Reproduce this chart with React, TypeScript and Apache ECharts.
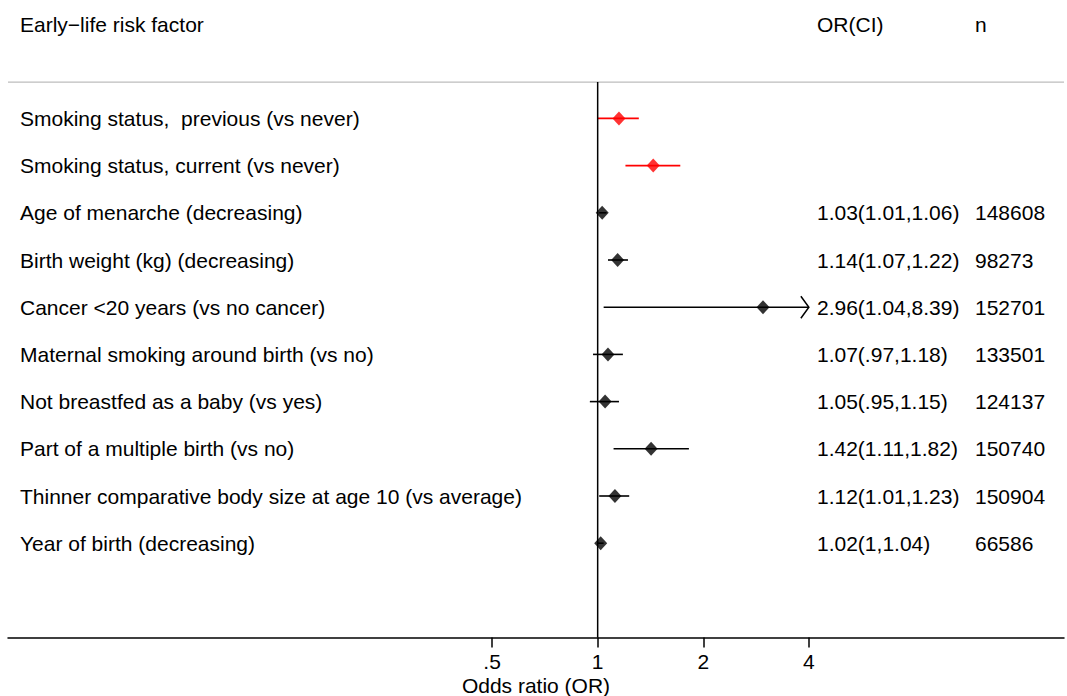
import React, { useEffect, useRef } from "react";
import * as echarts from "echarts";

const LABELS = [
  "Smoking status,  previous (vs never)",
  "Smoking status, current (vs never)",
  "Age of menarche (decreasing)",
  "Birth weight (kg) (decreasing)",
  "Cancer <20 years (vs no cancer)",
  "Maternal smoking around birth (vs no)",
  "Not breastfed as a baby (vs yes)",
  "Part of a multiple birth (vs no)",
  "Thinner comparative body size at age 10 (vs average)",
  "Year of birth (decreasing)",
];
const OR = [1.15, 1.44, 1.03, 1.14, 2.96, 1.07, 1.05, 1.42, 1.12, 1.02];
const LO = [1.0, 1.2, 1.01, 1.07, 1.04, 0.97, 0.95, 1.11, 1.01, 1.0];
const HI = [1.31, 1.72, 1.06, 1.22, 8.39, 1.18, 1.15, 1.82, 1.23, 1.04];
const CI_TEXT = [
  "",
  "",
  "1.03(1.01,1.06)",
  "1.14(1.07,1.22)",
  "2.96(1.04,8.39)",
  "1.07(.97,1.18)",
  "1.05(.95,1.15)",
  "1.42(1.11,1.82)",
  "1.12(1.01,1.23)",
  "1.02(1,1.04)",
];
const N_TEXT = ["", "", "148608", "98273", "152701", "133501", "124137", "150740", "150904", "66586"];
const HIGHLIGHT = [true, true, false, false, false, false, false, false, false, false];
const HEADERS = ["Early\u2212life risk factor", "OR(CI)", "n"];
const TICK_VALUES = [0.5, 1, 2, 4];
const TICK_LABELS = [".5", "1", "2", "4"];
const X_CAP = 4;
const AXIS_TITLE = "Odds ratio (OR)";

const FONT = "'Liberation Sans', Arial, Helvetica, sans-serif";
const FS = 21;
const COL_X = [20, 817, 975];
const RED = "#ff0000";

const lg = (v: number) => Math.log2(v);

export default function App() {
  const ref = useRef<HTMLDivElement>(null);
  useEffect(() => {
    if (!ref.current) return;
    const chart = echarts.init(ref.current, undefined, { renderer: "svg" });
    const rows = LABELS.map((_, i) => i + 2);
    const xMin = -5.584;
    const xMax = 4.416;
    const sepRow = 1.23;
    const bottomRow = 13;

    const textRows = [
      { row: 0, cols: HEADERS },
      ...LABELS.map((l, i) => ({ row: rows[i], cols: [l, CI_TEXT[i], N_TEXT[i]] })),
    ];

    const option: any = {
      animation: false,
      backgroundColor: "#fff",
      grid: { left: 8, right: 3, top: 24, bottom: 58.4, containLabel: false, outerBoundsMode: "none" },
      xAxis: {
        type: "value",
        min: xMin,
        max: xMax,
        axisLine: { show: true, onZero: false, lineStyle: { color: "#000", width: 1.5 } },
        axisTick: {
          show: true,
          inside: false,
          length: 10,
          customValues: TICK_VALUES.map(lg),
          lineStyle: { color: "#000", width: 1.5 },
        },
        axisLabel: {
          customValues: TICK_VALUES.map(lg),
          formatter: (v: number) => {
            const idx = TICK_VALUES.findIndex((t) => Math.abs(lg(t) - v) < 1e-6);
            return idx >= 0 ? TICK_LABELS[idx] : "";
          },
          color: "#000",
          fontSize: FS,
          fontFamily: FONT,
          margin: 13,
        },
        splitLine: { show: false },
        name: AXIS_TITLE,
        nameLocation: "middle",
        nameGap: 37,
        nameMoveOverlap: false,
        nameTextStyle: { color: "#000", fontSize: FS, fontFamily: FONT, verticalAlign: "top" },
      },
      yAxis: { type: "value", min: 0, max: bottomRow, inverse: true, show: false },
      series: [
        {
          type: "line",
          data: [
            [xMin, sepRow],
            [xMax, sepRow],
          ],
          symbol: "none",
          lineStyle: { color: "#bdbdbd", width: 1.2 },
          silent: true,
        },
        {
          type: "line",
          data: [
            [0, sepRow],
            [0, bottomRow],
          ],
          symbol: "none",
          lineStyle: { color: "#000", width: 1.5 },
          silent: true,
        },
        {
          type: "custom",
          data: LABELS.map((_, i) => [lg(LO[i]), lg(Math.min(HI[i], X_CAP)), rows[i], HI[i] > X_CAP ? 1 : 0, HIGHLIGHT[i] ? 1 : 0]),
          renderItem: (params: any, api: any) => {
            const a = api.coord([api.value(0), api.value(2)]);
            const b = api.coord([api.value(1), api.value(2)]);
            const color = api.value(4) ? RED : "#000";
            const children: any[] = [
              {
                type: "line",
                shape: { x1: a[0], y1: a[1], x2: b[0], y2: b[1] },
                style: { stroke: color, lineWidth: 1.6 },
              },
            ];
            if (api.value(3)) {
              children.push({
                type: "polyline",
                shape: {
                  points: [
                    [b[0] - 8, b[1] - 11],
                    [b[0], b[1]],
                    [b[0] - 8, b[1] + 11],
                  ],
                },
                style: { stroke: color, lineWidth: 1.5, fill: "none" },
              });
            }
            return { type: "group", children };
          },
          silent: true,
          z: 3,
        },
        {
          type: "scatter",
          symbol: "diamond",
          symbolSize: [13, 14],
          data: LABELS.map((_, i) => ({
            value: [lg(OR[i]), rows[i]],
            itemStyle: { color: HIGHLIGHT[i] ? RED : "#000" },
          })),
          z: 4,
        },
        {
          type: "custom",
          data: textRows.map((r, i) => [0, r.row, i]),
          renderItem: (params: any, api: any) => {
            const y = api.coord([0, api.value(1)])[1];
            const tr = textRows[api.value(2)];
            return {
              type: "group",
              children: tr.cols.map((t: string, c: number) => ({
                type: "text",
                x: COL_X[c],
                y,
                style: {
                  text: t,
                  fill: "#000",
                  font: `${FS}px ${FONT}`,
                  textAlign: "left",
                  textVerticalAlign: "middle",
                },
              })),
            };
          },
          silent: true,
          z: 5,
        },
      ],
    };
    chart.setOption(option);
    return () => chart.dispose();
  }, []);
  return <div ref={ref} style={{ position: "absolute", left: 0, top: 0, width: 1067, height: 696 }} />;
}
